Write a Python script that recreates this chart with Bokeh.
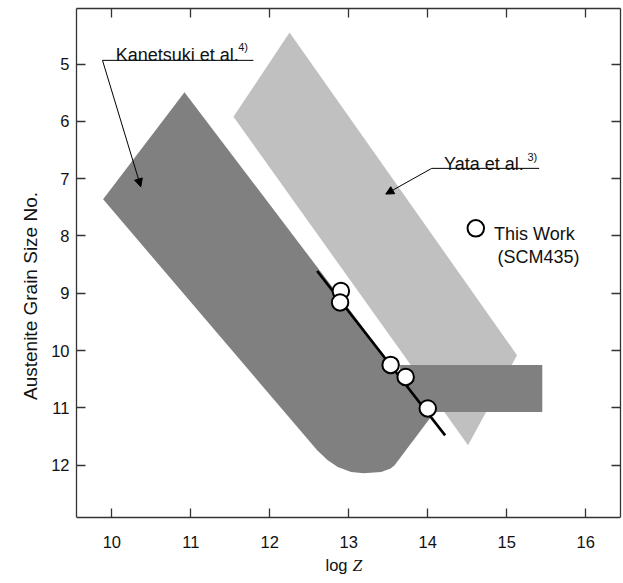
from bokeh.plotting import figure
from bokeh.models import (Range1d, LinearAxis, FixedTicker, Label, Arrow, NormalHead,
                          CustomLabelingPolicy)
from bokeh.embed import file_html
from bokeh.resources import INLINE

# ---- data ----
x_ticks = [10, 11, 12, 13, 14, 15, 16]
y_ticks = [5, 6, 7, 8, 9, 10, 11, 12]
x_lim = (9.553, 16.44)
y_lim = (4.03, 12.92)

# Kanetsuki et al. band (dark grey), outline incl. rounded bottom
kanetsuki_x = [9.89, 10.92, 14.04, 13.58, 13.53, 13.41, 13.19, 13.03, 12.86, 12.73, 12.60]
kanetsuki_y = [7.36, 5.49, 11.16, 12.00, 12.06, 12.12, 12.14, 12.12, 12.03, 11.91, 11.74]
# Kanetsuki et al. horizontal band
kbar_x = [13.65, 15.45]
kbar_y = [10.25, 11.07]

# Yata et al. band (light grey)
yata_x = [11.54, 12.25, 15.13, 14.51]
yata_y = [5.92, 4.45, 10.08, 11.65]

# This work (SCM435)
work_logz = [12.90, 12.89, 13.53, 13.72, 14.00]
work_gsn = [8.96, 9.16, 10.25, 10.46, 11.01]

# fitted line
fit_logz = [12.60, 14.22]
fit_gsn = [8.61, 11.48]

DARK = "#808080"
LIGHT = "#c0c0c0"
AX = "#333333"
FONT = "Liberation Sans"
PX_PER_Y = 57.3  # layout scale used to extend the frame down to the canvas bottom

H, W = 583, 623
TOP = 8
y_bottom_canvas = y_lim[0] + (H - TOP) / PX_PER_Y

p = figure(width=W, height=H,
           x_range=Range1d(*x_lim), y_range=Range1d(y_bottom_canvas, y_lim[0]),
           output_backend="svg", toolbar_location=None,
           min_border_left=76, min_border_right=3, min_border_top=TOP, min_border_bottom=0,
           background_fill_color="white", border_fill_color="white")
p.xgrid.visible = False
p.ygrid.visible = False
p.outline_line_color = None

xb = p.below[0]
yl = p.left[0]
xb.ticker = FixedTicker(ticks=x_ticks)
yl.ticker = FixedTicker(ticks=y_ticks)
xb.fixed_location = y_lim[1]
yl.bounds = y_lim

hide = "for (const i of indices) indices.unset(i)"
top = LinearAxis(ticker=FixedTicker(ticks=x_ticks),
                 major_label_policy=CustomLabelingPolicy(code=hide))
right = LinearAxis(ticker=FixedTicker(ticks=y_ticks), bounds=y_lim,
                   major_label_policy=CustomLabelingPolicy(code=hide))
p.add_layout(top, "above")
p.add_layout(right, "right")

for ax in (xb, yl, top, right):
    ax.major_tick_in = 9
    ax.major_tick_out = 0
    ax.minor_tick_line_color = None
    ax.axis_line_color = AX
    ax.axis_line_width = 1.3
    ax.major_tick_line_color = AX
    ax.major_tick_line_width = 1.3
    ax.major_label_text_font = FONT
    ax.major_label_text_font_size = "16.5px"
    ax.major_label_text_color = "#111111"

for ax in (top, right):
    ax.major_label_text_font_size = "0px"
    ax.major_label_standoff = 0

xb.major_label_standoff = 18
yl.major_label_standoff = 7

yl.axis_label = "Austenite Grain Size No."
yl.axis_label_text_font = FONT
yl.axis_label_text_font_style = "normal"
yl.axis_label_text_font_size = "19px"
yl.axis_label_text_color = "#111111"
yl.axis_label_standoff = 7

# bands
p.patch(yata_x, yata_y, fill_color=LIGHT, line_color=None)
p.patch(kanetsuki_x, kanetsuki_y, fill_color=DARK, line_color=None)
p.quad(left=[kbar_x[0]], right=[kbar_x[1]], top=[kbar_y[0]], bottom=[kbar_y[1]],
       fill_color=DARK, line_color=None)

# this work
p.line(fit_logz, fit_gsn, line_color="black", line_width=2.6)
p.scatter(work_logz, work_gsn, size=16.5, fill_color="white", line_color="black", line_width=2)

# annotations
def note(txt, sup, tx, ty, sx, sy, ux0, ux1, uy, axe, aye):
    p.add_layout(Label(x=tx, y=ty, text=txt, text_font=FONT, text_font_size="18px",
                       text_color="#111111", text_baseline="alphabetic"))
    p.add_layout(Label(x=sx, y=sy, text=sup, text_font=FONT, text_font_size="11px",
                       text_color="#111111", text_baseline="alphabetic"))
    p.line([ux0, ux1], [uy, uy], line_color="black", line_width=1)
    p.add_layout(Arrow(end=NormalHead(size=8, fill_color="black", line_color="black"),
                       x_start=ux0, y_start=uy, x_end=axe, y_end=aye,
                       line_color="black", line_width=1))

note("Kanetsuki et al.", "4)", 10.05, 4.843, 11.60, 4.70, 9.882, 11.793, 4.935, 10.367, 7.141)
note("Yata et al.", "3)", 14.206, 6.75, 15.262, 6.62, 14.05, 15.41, 6.82, 13.468, 7.269)

# legend
p.scatter([14.608], [7.867], size=16.5, fill_color="white", line_color="black", line_width=2)
p.add_layout(Label(x=14.839, y=7.972, text="This Work", text_font=FONT, text_font_size="18px",
                   text_color="#111111", text_baseline="alphabetic"))
p.add_layout(Label(x=14.882, y=8.363, text="(SCM435)", text_font=FONT, text_font_size="18px",
                   text_color="#111111", text_baseline="alphabetic"))

# x-axis title: "log Z" with italic Z
xc = (x_lim[0] + x_lim[1]) / 2
p.add_layout(Label(x=xc, y=13.74, text="log", text_font=FONT, text_font_size="16.5px",
                   text_color="#111111", text_align="right", text_baseline="middle", x_offset=-1))
p.add_layout(Label(x=xc, y=13.74, text="Z", text_font="Liberation Serif", text_font_size="17.5px",
                   text_font_style="italic", text_color="#111111", text_align="left",
                   text_baseline="middle", x_offset=4))

open("out.html", "w").write(file_html(p, INLINE))
